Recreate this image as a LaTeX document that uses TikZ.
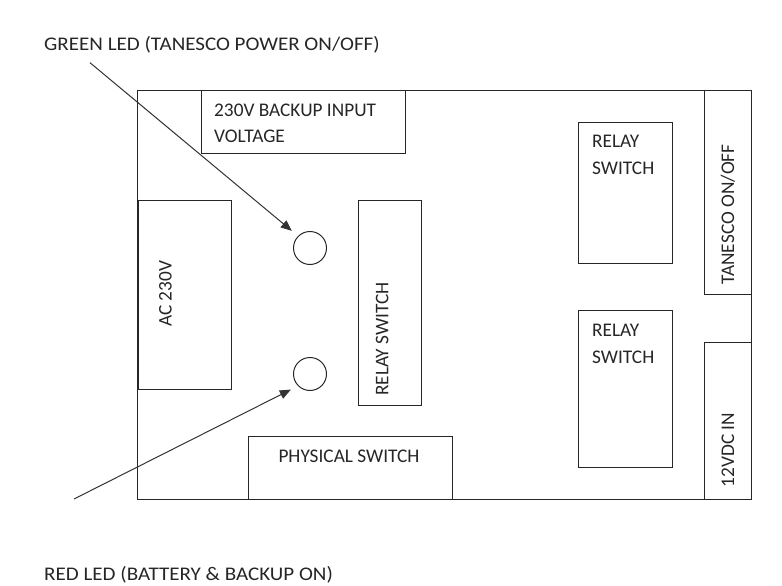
\documentclass[tikz,border=0pt]{standalone}
\usepackage{fontspec}
\setmainfont{Carlito}
\usetikzlibrary{fit,arrows.meta}
\begin{document}
\begin{tikzpicture}[x=1pt,y=-1pt,
  box/.style={draw=black!85, line width=1pt, inner sep=0pt},
  lbl/.style={inner sep=0pt, text=black!85, font=\fontsize{19.3}{26}\selectfont},
  wide/.style={xscale=1.09, transform shape},
  led/.style={draw=black!85, line width=1pt, circle, minimum size=33pt, inner sep=0pt},
  pointer/.style={draw=black!80, line width=1pt, -{Triangle[length=11pt,width=9pt]}, shorten >=8pt}]
\useasboundingbox (0,0) rectangle (782,586);
% boards
\node[box, fit={(137.7,90.7) (751.7,499)}] (main) {};
\node[box, fit={(201,90.7) (405.7,153.3)}] (backup) {};
\node[box, fit={(138,200.7) (231.7,389.3)}] (ac) {};
\node[box, fit={(358.3,200.7) (421,405)}] (relayv) {};
\node[box, fit={(578.3,122.3) (672.7,263.3)}] (relay1) {};
\node[box, fit={(578.3,310) (672.7,467.7)}] (relay2) {};
\node[box, fit={(704.3,90.7) (751.7,294.3)}] (tanesco) {};
\node[box, fit={(704.3,342.3) (751.7,499)}] (vdc) {};
\node[box, fit={(248.3,436) (452.7,499)}] (phys) {};
% texts
\node[lbl, anchor=base west] (tb1) at (214,116.7) {230V BACKUP INPUT};
\node[lbl, anchor=base west] (tb2) at (214,142.3) {VOLTAGE};
\node[lbl, anchor=base, rotate=90] (tac) at (171.7,294) {AC 230V};
\node[lbl, anchor=base, rotate=90] (trv) at (388.3,339) {RELAY SWITCH};
\node[lbl, anchor=base west] (tr1a) at (592,147.7) {RELAY};
\node[lbl, anchor=base west] (tr1b) at (592,174.3) {SWITCH};
\node[lbl, anchor=base west] (tr2a) at (592,336.7) {RELAY};
\node[lbl, anchor=base west] (tr2b) at (592,363.3) {SWITCH};
\node[lbl, anchor=base, rotate=90] (ttan) at (734,214.5) {TANESCO ON/OFF};
\node[lbl, anchor=base, rotate=90] (tvdc) at (734,450) {12VDC IN};
\node[lbl, anchor=base west] (tphys) at (278.3,462.7) {PHYSICAL SWITCH};
% LEDs
\node[led] (led1) at (310,248) {};
\node[led] (led2) at (310,374) {};
% labels
\node[lbl, wide, anchor=base west] (green) at (44,50.7) {GREEN LED (TANESCO POWER ON/OFF)};
\node[lbl, wide, anchor=base west] (red) at (44,580.5) {RED LED (BATTERY \& BACKUP ON)};
\coordinate (gstart) at (90,62.7);
\coordinate (rstart) at (74,499);
\draw[pointer] (gstart) -- (led1.135);
\draw[pointer] (rstart) -- (led2.225);
\end{tikzpicture}
\end{document}
